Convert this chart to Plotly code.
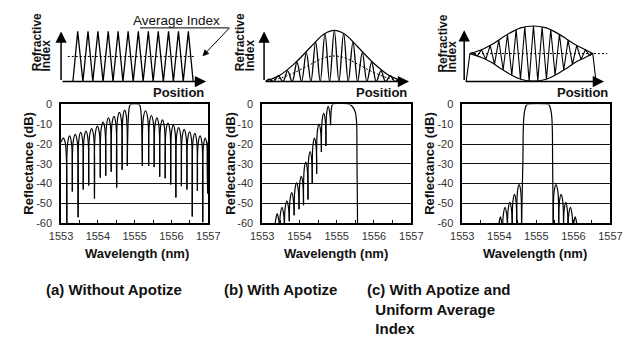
import plotly.graph_objects as go

W, H = 633, 343
FONT = "Liberation Sans, Arial, Helvetica, sans-serif"

# ---------------- Reflectance spectra (wavelength nm, reflectance dB) ----------------
# (a) Without apodization
a_left_null_wl = [1553.157, 1553.306, 1553.463, 1553.603, 1553.751, 1553.908, 1554.066,
                  1554.214, 1554.362, 1554.511, 1554.659, 1554.799]
a_left_null_db = [-61, -44, -57, -43, -41, -47.5, -37, -36, -34, -42, -33, -31]
a_left_peak_db = [-15.9, -15.1, -14.1, -13.5, -12.2, -11.0, -8.9, -6.8, -6.0, -4.0, -2.9]
a_left_edge_wl = [1553.0, 1553.06, 1553.11]
a_left_edge_db = [-19, -17, -19]
a_main_wl = [1554.799, 1554.83, 1554.86, 1554.89, 1555.12, 1555.15, 1555.18, 1555.210]
a_main_db = [-31, -6, -1, 0, 0, -1, -6, -31]
a_right_null_wl = [1555.210, 1555.380, 1555.530, 1555.680, 1555.830, 1555.980, 1556.120,
                   1556.270, 1556.420, 1556.565, 1556.705, 1556.850, 1556.985]
a_right_null_db = [-31, -31, -31.6, -36.5, -37.3, -40.5, -47, -41.4, -43, -56.7, -43.8, -59.5, -45]
a_right_peak_db = [-3.2, -5.6, -6.8, -7.8, -9.4, -10.5, -11.7, -12.6, -13.8, -14.6, -15.9, -17]
a_right_edge_wl = [1557.0, 1557.05]
a_right_edge_db = [-19, -17.5]

# (b) With apodization
b_null_wl = [1553.340, 1553.468, 1553.598, 1553.728, 1553.858, 1553.990, 1554.110,
             1554.230, 1554.345, 1554.462, 1554.590, 1554.712, 1554.835]
b_null_db = [-62, -62, -62, -59, -56, -53, -51, -48, -40, -35, -24, -21, -10.5]
b_peak_db = [-55.2, -52, -48.7, -44.6, -39.7, -36.4, -29.2, -23.8, -17, -10, -4.5, -1]
b_main_wl = [1554.835, 1554.86, 1554.89, 1555.34, 1555.43, 1555.50, 1555.53, 1555.545, 1555.56]
b_main_db = [-10.5, -2, 0, 0, -1.3, -4, -8, -30, -62]

# (c) With apodization and uniform average index
c_left_null_wl = [1553.969, 1554.090, 1554.220, 1554.349, 1554.471, 1554.600]
c_left_peak_db = [-56.8, -52, -49.5, -45.5, -40.5]
c_right_null_wl = [1555.457, 1555.604, 1555.734, 1555.855, 1555.984, 1556.114]
c_right_peak_db = [-40.5, -45.5, -49.5, -52, -56.8]
c_null_db = -62
c_main_wl = [1554.600, 1554.635, 1554.67, 1554.73, 1554.76, 1555.32, 1555.35, 1555.41, 1555.44, 1555.457]
c_main_db = [-62, -30, -5, -0.5, 0, 0, -0.5, -5, -30, -62]

wl_ticks = [1553, 1554, 1555, 1556, 1557]
db_ticks = [0, -10, -20, -30, -40, -50, -60]

# ---------------- Refractive index profiles (position, index; arbitrary units) -------------
a_idx_trough_x = [12.3, 22.7, 33, 43.7, 54, 64.3, 75, 85.3, 95.7, 106.3, 116.7, 127, 137.3]
a_idx_peak_x = [17.3, 28, 38.3, 49, 59.3, 69.7, 80.3, 90.7, 101, 111.7, 122, 132.3]
a_idx_peak = [52] * 12
a_avg_x = [7, 139]
a_avg_y = [26, 26]

b_env_x = [2, 16, 32, 49, 62, 73, 84, 97, 114, 130, 144]
b_env_y = [0.7, 6.3, 19, 36.3, 49, 53, 49, 36.3, 19, 6.3, 0.7]
b_avg_y = [0.4, 3.2, 9.5, 18.2, 24.5, 26.5, 24.5, 18.2, 9.5, 3.2, 0.4]
b_osc_peak_x = [5.1, 14.8, 24.5, 34.2, 43.9, 53.6, 63.3, 73, 82.7, 92.4, 102.1, 111.8, 121.5, 131.2, 140.9]
b_osc_peak_y = [2.5, 6, 11, 20, 30, 41, 50, 53, 50, 41, 30, 20, 11, 6, 2.5]
b_osc_trough_x = [2, 10, 19.6, 29.3, 39, 48.7, 58.4, 68.1, 77.8, 87.5, 97.2, 106.9, 116.6, 126.3, 136, 145]

c_env_x = [6, 18.7, 28.7, 38.7, 48.7, 58.7, 72, 85.3, 95.3, 105.3, 115.3, 125.3, 133.7]
c_env_upper = [29, 33.3, 38.3, 45, 51, 55.6, 57.6, 55.6, 51, 45, 38.3, 33.3, 29]
c_env_lower = [29, 24.7, 19.7, 13, 7, 2.4, 0.4, 2.4, 7, 13, 19.7, 24.7, 29]
c_zig_top_x = [9, 18, 27, 36, 45, 54, 63, 72, 81, 90, 99, 108, 117, 126]
c_zig_top_y = [30, 33, 37.5, 43, 49, 54, 56.5, 57.6, 56.5, 54, 49, 43, 37.5, 33]
c_zig_bot_x = [13.5, 22.5, 31.5, 40.5, 49.5, 58.5, 67.5, 76.5, 85.5, 94.5, 103.5, 112.5, 121.5, 130.5]
c_zig_bot_y = [26.5, 23, 18, 12, 6.5, 2.5, 0.7, 0.7, 2.5, 6.5, 12, 18, 23, 27]
c_edge_x = [2, 6, 133.7, 137]
c_edge_y = [0, 29, 29, 0]
c_avg_x = [6, 148.7]
c_avg_y = [29, 29]

captions = ["(a) Without Apotize", "(b) With Apotize",
            "(c) With Apotize and<br>&nbsp;&nbsp;Uniform Average<br>&nbsp;&nbsp;Index"]

# lobe drawing style (shape only)
SHOULDER_FRAC = 0.16
SHOULDER_DROP = 3.5


def px(x):
    return x / W


def py(y):
    return 1 - y / H


def build_lobes(null_wl, null_db, peak_db):
    xs, ys = [], []
    for i in range(len(peak_db)):
        x0, x1 = null_wl[i], null_wl[i + 1]
        w = x1 - x0
        xs += [x0, x0 + SHOULDER_FRAC * w, (x0 + x1) / 2, x1 - SHOULDER_FRAC * w, x1, None]
        ys += [null_db[i], peak_db[i] - SHOULDER_DROP, peak_db[i], peak_db[i] - SHOULDER_DROP, null_db[i + 1], None]
    return xs, ys


fig = go.Figure()
black = "black"
spec_line = dict(color=black, width=1.2, shape="spline", smoothing=1.0)

# ---- spectrum (a)
xs, ys = [], []
xs += a_left_edge_wl + [a_left_null_wl[0], None]
ys += a_left_edge_db + [a_left_null_db[0], None]
lx, ly = build_lobes(a_left_null_wl, a_left_null_db, a_left_peak_db)
xs += lx; ys += ly
xs += a_main_wl + [None]; ys += a_main_db + [None]
rx, ry = build_lobes(a_right_null_wl, a_right_null_db, a_right_peak_db)
xs += rx; ys += ry
xs += [a_right_null_wl[-1]] + a_right_edge_wl
ys += [a_right_null_db[-1]] + a_right_edge_db
fig.add_trace(go.Scatter(x=xs, y=ys, mode="lines", line=spec_line, xaxis="x", yaxis="y", connectgaps=False))

# ---- spectrum (b)
xs, ys = build_lobes(b_null_wl, b_null_db, b_peak_db)
xs += b_main_wl; ys += b_main_db
fig.add_trace(go.Scatter(x=xs, y=ys, mode="lines", line=spec_line, xaxis="x2", yaxis="y2", connectgaps=False))

# ---- spectrum (c)
xs, ys = build_lobes(c_left_null_wl, [c_null_db] * len(c_left_null_wl), c_left_peak_db)
xs += c_main_wl + [None]; ys += c_main_db + [None]
rx, ry = build_lobes(c_right_null_wl, [c_null_db] * len(c_right_null_wl), c_right_peak_db)
xs += rx; ys += ry
fig.add_trace(go.Scatter(x=xs, y=ys, mode="lines", line=spec_line, xaxis="x3", yaxis="y3", connectgaps=False))

# ---- index profile (a)
ax_, ay_ = [], []
for i in range(len(a_idx_peak_x)):
    ax_ += [a_idx_trough_x[i], a_idx_peak_x[i]]
    ay_ += [0, a_idx_peak[i]]
ax_ += [a_idx_trough_x[-1]]; ay_ += [0]
fig.add_trace(go.Scatter(x=ax_, y=ay_, mode="lines", line=dict(color=black, width=1.3), xaxis="x4", yaxis="y4"))
fig.add_trace(go.Scatter(x=a_avg_x, y=a_avg_y, mode="lines", line=dict(color=black, width=1, dash="2px,2px"),
                         xaxis="x4", yaxis="y4"))

# ---- index profile (b)
fig.add_trace(go.Scatter(x=b_env_x, y=b_env_y, mode="lines", line=dict(color=black, width=1.2, shape="spline"),
                         xaxis="x5", yaxis="y5"))
fig.add_trace(go.Scatter(x=b_env_x, y=b_avg_y, mode="lines", line=dict(color=black, width=1, shape="spline", dash="2px,2px"),
                         xaxis="x5", yaxis="y5"))
bx, by = [b_osc_trough_x[0]], [0]
for i in range(len(b_osc_peak_x)):
    bx += [b_osc_peak_x[i], b_osc_trough_x[i + 1]]
    by += [b_osc_peak_y[i], 0]
fig.add_trace(go.Scatter(x=bx, y=by, mode="lines", line=dict(color=black, width=1.3, shape="spline", smoothing=1.0),
                         xaxis="x5", yaxis="y5"))

# ---- index profile (c)
fig.add_trace(go.Scatter(x=c_env_x, y=c_env_upper, mode="lines", line=dict(color=black, width=1.2, shape="spline"),
                         xaxis="x6", yaxis="y6"))
fig.add_trace(go.Scatter(x=c_env_x, y=c_env_lower, mode="lines", line=dict(color=black, width=1.2, shape="spline"),
                         xaxis="x6", yaxis="y6"))
fig.add_trace(go.Scatter(x=c_avg_x, y=c_avg_y, mode="lines", line=dict(color=black, width=1, dash="2px,2px"),
                         xaxis="x6", yaxis="y6"))
cx, cy = c_edge_x[:2], c_edge_y[:2]
for i in range(len(c_zig_top_x)):
    cx = cx + [c_zig_top_x[i], c_zig_bot_x[i]]
    cy = cy + [c_zig_top_y[i], c_zig_bot_y[i]]
cx += c_edge_x[2:]; cy += c_edge_y[2:]
fig.add_trace(go.Scatter(x=cx, y=cy, mode="lines", line=dict(color=black, width=1.1), xaxis="x6", yaxis="y6"))

# ---------------- axes ----------------
bottom_dom = [(51, 204), (260, 415), (468, 622)]
ydom_bottom = [py(225), py(102)]
layout = dict(width=W, height=H, margin=dict(l=0, r=0, t=0, b=0), showlegend=False,
              paper_bgcolor="white", plot_bgcolor="white", font=dict(family=FONT, color="#222"))
for k, (x0, x1) in enumerate(bottom_dom):
    s = "" if k == 0 else str(k + 1)
    layout["xaxis" + s] = dict(domain=[px(x0), px(x1)], range=[1553, 1557], anchor="y" + s,
                               tickvals=wl_ticks, ticktext=[str(t) for t in wl_ticks],
                               ticks="inside", ticklen=3, tickcolor=black, tickwidth=1,
                               minor=dict(tick0=1553, dtick=0.5, ticks="inside", ticklen=3, tickcolor=black),
                               showgrid=False, zeroline=False, showline=True, mirror=True,
                               linecolor=black, linewidth=1.5, tickfont=dict(size=11, color="#333"),
                               ticklabelstandoff=2)
    layout["yaxis" + s] = dict(domain=ydom_bottom, range=[-60, 0], anchor="x" + s,
                               tickvals=db_ticks, ticktext=[str(t) for t in db_ticks], ticks="",
                               showgrid=True, gridcolor="#111", gridwidth=1, zeroline=False,
                               showline=True, mirror=True, linecolor=black, linewidth=1.5,
                               tickfont=dict(size=11, color="#333"), ticklabelstandoff=5)

top_x0 = [51, 262, 470]
for k, x0 in enumerate(top_x0):
    s = str(k + 4)
    layout["xaxis" + s] = dict(domain=[px(x0), px(x0 + 160)], range=[0, 160], visible=False, anchor="y" + s)
    layout["yaxis" + s] = dict(domain=[py(78.3), py(18.3)], range=[0, 60], visible=False, anchor="x" + s)

ann = []
shapes = []
bold = dict(family=FONT, size=13, color="#111", weight="bold")

# axis arrows for top panels
arrow_heads = [(150.7, 52), (150.7, 52), (145.3, 53.3)]
for k, (hx, hy) in enumerate(arrow_heads):
    s = str(k + 4)
    for (x, y) in [(hx, 0), (0, hy)]:
        ann.append(dict(x=x, y=y, ax=0, ay=0, xref="x" + s, yref="y" + s, axref="x" + s, ayref="y" + s,
                        text="", showarrow=True, arrowhead=2, arrowsize=1.5, arrowwidth=1.5, arrowcolor=black))

# Refractive Index labels
ri_pos = [(25.7, 35.3, 70), (236.8, 247, 70), (447, 457.3, 71)]
for (x1, x2, yb) in ri_pos:
    ann.append(dict(x=px(x1), y=py(yb), xref="paper", yref="paper", text="Refractive", textangle=-90,
                    showarrow=False, xanchor="center", yanchor="bottom", font=dict(bold, size=12)))
    ann.append(dict(x=px(x2), y=py(yb), xref="paper", yref="paper", text="Index", textangle=-90,
                    showarrow=False, xanchor="center", yanchor="bottom", font=dict(bold, size=12)))

# Position labels
for xr in [202, 413, 622]:
    ann.append(dict(x=px(xr), y=py(90), xref="paper", yref="paper", text="Position", showarrow=False,
                    xanchor="right", yanchor="middle", font=dict(bold, size=13)))

# Average Index callout
ann.append(dict(x=px(171.5), y=py(15), xref="paper", yref="paper", text="Average Index", showarrow=False,
                xanchor="center", yanchor="middle", font=dict(family=FONT, size=13.5, color="#111")))
shapes.append(dict(type="line", xref="paper", yref="paper", x0=px(133), x1=px(226), y0=py(22.7), y1=py(22.7),
                   line=dict(color=black, width=1)))
ann.append(dict(x=px(198), y=py(52), xref="paper", yref="paper", ax=28, ay=-29.3, text="", showarrow=True,
                arrowhead=2, arrowsize=1.3, arrowwidth=1, arrowcolor=black))

# Axis titles for spectra
for xc in [17, 227, 434]:
    ann.append(dict(x=px(xc), y=py(163), xref="paper", yref="paper", text="Reflectance (dB)", textangle=-90,
                    showarrow=False, xanchor="center", yanchor="middle", font=dict(bold, size=13)))
for xc in [129.5, 337, 544]:
    ann.append(dict(x=px(xc), y=py(256.7), xref="paper", yref="paper", text="Wavelength (nm)",
                    showarrow=False, xanchor="center", yanchor="middle", font=dict(bold, size=13)))

# Captions
cap_pos = [(33, 283), (218, 283), (367, 283)]
for t, (x, y) in zip(captions, cap_pos):
    ann.append(dict(x=px(x), y=py(y), xref="paper", yref="paper", text=t, showarrow=False, align="left",
                    xanchor="left", yanchor="top", font=dict(bold, size=15)))

layout["annotations"] = ann
layout["shapes"] = shapes
fig.update_layout(**layout)
fig.write_html("out.html")
